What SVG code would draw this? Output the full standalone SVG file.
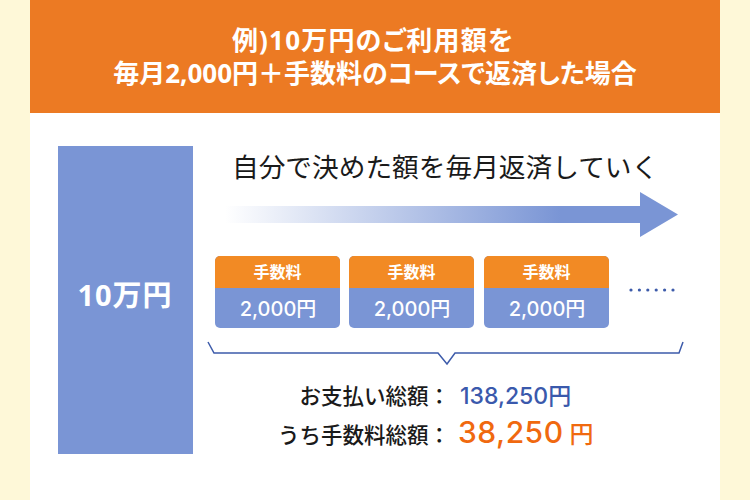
<svg xmlns="http://www.w3.org/2000/svg" width="750" height="500" viewBox="0 0 750 500">
<defs>
<linearGradient id="arrowGrad" x1="225" y1="0" x2="560" y2="0" gradientUnits="userSpaceOnUse">
<stop offset="0" stop-color="#7A95D5" stop-opacity="0"/>
<stop offset="1" stop-color="#7A95D5" stop-opacity="1"/>
</linearGradient>
<style>
text{font-family:"Open Sans","Noto Sans CJK JP",sans-serif;}
.num{font-family:Inter,"Noto Sans CJK JP",sans-serif;}
.title{fill:#fff;font-size:26px;font-weight:700;text-anchor:middle;font-feature-settings:"palt" 1;}
.fee{fill:#fff;font-size:16px;font-weight:700;text-anchor:middle;}
.amt{fill:#fff;font-size:20px;font-weight:500;text-anchor:middle;}
.lbl{fill:#1a1a1a;font-size:21.5px;font-weight:500;}
.boxo{fill:#F28A24;}
.boxb{fill:#7A95D5;}
</style>
</defs>
<rect width="750" height="500" fill="#FEF8D8"/>
<rect x="30" y="0" width="690" height="500" fill="#FFFFFF"/>
<g id="header">
<rect x="30" y="0" width="690" height="113" fill="#EC7A23"/>
<text class="title" x="373" y="50" font-size="27" letter-spacing="1.2">例)10万円のご利用額を</text>
<text class="title" x="375" y="83">毎月2,000円＋手数料のコースで返済した場合</text>
</g>
<g id="principal">
<rect x="58" y="146" width="135" height="308" fill="#7A95D5"/>
<text x="125" y="306" fill="#fff" font-size="29" font-weight="700" text-anchor="middle" letter-spacing="1">10万円</text>
</g>
<g id="caption">
<text x="232" y="177" fill="#1a1a1a" font-size="26.7" font-weight="400">自分で決めた額を毎月返済していく</text>
</g>
<g id="connectors">
<path d="M225 206 H640 V192 L678 214.5 L640 237 V223 H225 Z" fill="url(#arrowGrad)"/>
<path d="M208 342 L214 353 H438 L447 364 L455 353 H679 L683 342" fill="none" stroke="#3D5BAA" stroke-width="1.5"/>
</g>
<g id="box1">
<rect class="boxb" x="215" y="256" width="125" height="72" rx="5"/>
<path class="boxo" d="M215 288 V261 A5 5 0 0 1 220 256 H335 A5 5 0 0 1 340 261 V288 Z"/>
<text class="fee" x="277.5" y="278">手数料</text>
<text class="amt num" x="278" y="316">2,000円</text>
</g>
<g id="box2">
<rect class="boxb" x="349" y="256" width="125" height="72" rx="5"/>
<path class="boxo" d="M349 288 V261 A5 5 0 0 1 354 256 H469 A5 5 0 0 1 474 261 V288 Z"/>
<text class="fee" x="411.5" y="278">手数料</text>
<text class="amt num" x="412" y="316">2,000円</text>
</g>
<g id="box3">
<rect class="boxb" x="484" y="256" width="125" height="72" rx="5"/>
<path class="boxo" d="M484 288 V261 A5 5 0 0 1 489 256 H604 A5 5 0 0 1 609 261 V288 Z"/>
<text class="fee" x="546.5" y="278">手数料</text>
<text class="amt num" x="547" y="316">2,000円</text>
</g>
<g id="ellipsis" fill="#3D5BAA">
<circle cx="631" cy="290" r="1.6"/>
<circle cx="639.4" cy="290" r="1.6"/>
<circle cx="647.8" cy="290" r="1.6"/>
<circle cx="656.2" cy="290" r="1.6"/>
<circle cx="664.6" cy="290" r="1.6"/>
<circle cx="673" cy="290" r="1.6"/>
</g>
<g id="total">
<text class="lbl" x="450" y="404" text-anchor="end">お支払い総額：</text>
<text class="num" x="460" y="404" fill="#3A59AC" font-size="23" font-weight="500">138,250円</text>
</g>
<g id="feeTotal">
<text class="lbl" x="450" y="443" text-anchor="end">うち手数料総額：</text>
<text class="num" x="458" y="443" fill="#F0690F" font-size="30" font-weight="500" letter-spacing="0.5">38,250<tspan font-size="24" dx="6" letter-spacing="0">円</tspan></text>
</g>
</svg>
